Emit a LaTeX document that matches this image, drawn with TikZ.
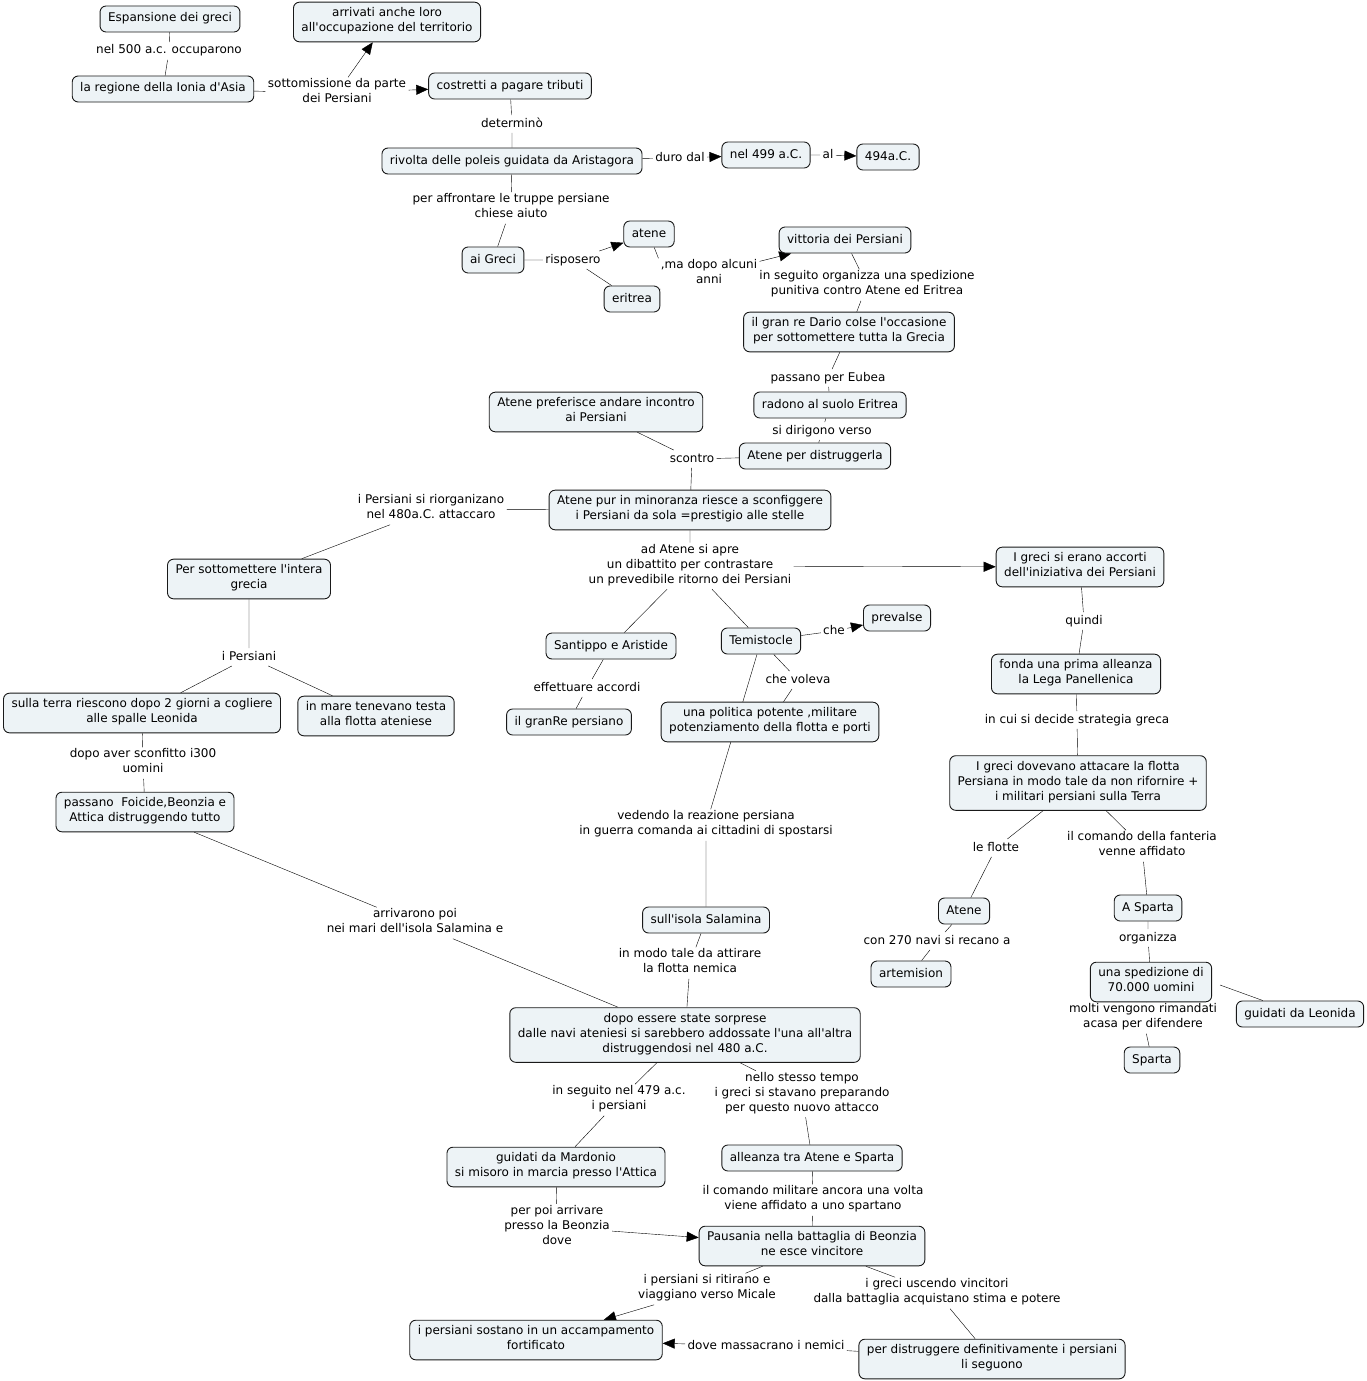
\documentclass[tikz,border=0pt]{standalone}
\usepackage{fontspec}
\setmainfont{DejaVu Sans}[Ligatures=TeXOff]
\usetikzlibrary{arrows.meta,backgrounds}
\definecolor{cmapfill}{RGB}{237,243,246}
\tikzset{every picture/.style={line width=0.9pt}}
\tikzset{
  concept/.style={draw=black!90, line width=0.9pt, fill=cmapfill, rounded corners=6pt, align=center,
    inner xsep=8pt, inner ysep=5.5pt, execute at begin node=\strut, execute at end node=\strut},
  phrase/.style={align=center, inner xsep=2pt, inner ysep=1pt,
    execute at begin node=\strut, execute at end node=\strut}
}

\begin{document}
\begin{tikzpicture}[x=1pt, y=-1pt, font=\fontsize{12}{15}\selectfont, line join=round, line cap=round, >={Triangle[length=12pt,width=10pt]}]
\useasboundingbox (0,0) rectangle (1366,1381);
\path
(170,19) node[concept] (Esp) {Espansione dei greci}
(387,22) node[concept] (Arr) {arrivati anche loro\\all'occupazione del territorio}
(163,89) node[concept] (Ion) {la regione della Ionia d'Asia}
(510,86) node[concept] (Tri) {costretti a pagare tributi}
(512,161) node[concept] (Riv) {rivolta delle poleis guidata da Aristagora}
(766,155) node[concept] (Dal) {nel 499 a.C.}
(888,157) node[concept] (Al) {494a.C.}
(493,260) node[concept] (Gre) {ai Greci}
(649,234) node[concept] (Ate) {atene}
(632,299) node[concept] (Eri) {eritrea}
(845,240) node[concept] (Vit) {vittoria dei Persiani}
(849,332) node[concept] (Dar) {il gran re Dario colse l'occasione\\per sottomettere tutta la Grecia}
(830,405) node[concept] (Rad) {radono al suolo Eritrea}
(815,456) node[concept] (Dis) {Atene per distruggerla}
(596,412) node[concept] (Pre) {Atene preferisce andare incontro\\ai Persiani}
(690,510) node[concept] (Min) {Atene pur in minoranza riesce a sconfiggere\\i Persiani da sola =prestigio alle stelle}
(249,579) node[concept] (Sot) {Per sottomettere l'intera\\grecia}
(1080,567) node[concept] (Acc) {I greci si erano accorti\\dell'iniziativa dei Persiani}
(611,646) node[concept] (San) {Santippo e Aristide}
(761,641) node[concept] (Tem) {Temistocle}
(897,618) node[concept] (Pva) {prevalse}
(142,713) node[concept] (Ter) {sulla terra riescono dopo 2 giorni a cogliere\\alle spalle Leonida}
(376,716) node[concept] (Mar) {in mare tenevano testa\\alla flotta ateniese}
(569,722) node[concept] (Rep) {il granRe persiano}
(770,722) node[concept] (Pol) {una politica potente ,militare\\potenziamento della flotta e porti}
(1076,674) node[concept] (Lega) {fonda una prima alleanza\\la Lega Panellenica}
(1078,783) node[concept] (Att) {I greci dovevano attacare la flotta\\Persiana in modo tale da non rifornire +\\i militari persiani sulla Terra}
(145,812) node[concept] (Foi) {passano\ \ Foicide,Beonzia e\\Attica distruggendo tutto}
(706,920) node[concept] (Sal) {sull'isola Salamina}
(964,911) node[concept] (Ath) {Atene}
(1148,908) node[concept] (ASp) {A Sparta}
(911,974) node[concept] (Art) {artemision}
(1151,982) node[concept] (Spe) {una spedizione di\\70.000 uomini}
(1300,1014) node[concept] (Leo) {guidati da Leonida}
(1152,1060) node[concept] (Spa) {Sparta}
(685,1035) node[concept] (Sor) {dopo essere state sorprese\\dalle navi ateniesi si sarebbero addossate l'una all'altra\\distruggendosi nel 480 a.C.}
(556,1167) node[concept] (Mdo) {guidati da Mardonio\\si misoro in marcia presso l'Attica}
(812,1158) node[concept] (All) {alleanza tra Atene e Sparta}
(812,1246) node[concept] (Pau) {Pausania nella battaglia di Beonzia\\ne esce vincitore}
(536,1340) node[concept] (Cam) {i persiani sostano in un accampamento\\fortificato}
(992,1359) node[concept] (Seg) {per distruggere definitivamente i persiani\\li seguono};
\foreach \n/\p/\t in {
  l1/{169,51}/{nel 500 a.c. occuparono},
  l2/{337,93}/{sottomissione da parte\\dei Persiani},
  l3/{512,124}/{determinò},
  l4/{680,158}/{duro dal},
  l5/{828,155}/{al},
  l6/{511,208}/{per affrontare le truppe persiane\\chiese aiuto},
  l7/{573,260}/{risposero},
  l8/{709,274}/{,ma dopo alcuni\\anni},
  l9/{867,285}/{in seguito organizza una spedizione\\punitiva contro Atene ed Eritrea},
  l10/{828,378}/{passano per Eubea},
  l11/{822,431}/{si dirigono verso},
  l12/{692,459}/{scontro},
  l13/{431,509}/{i Persiani si riorganizano\\nel 480a.C. attaccaro},
  l14/{690,566}/{ad Atene si apre\\un dibattito per contrastare\\un prevedibile ritorno dei Persiani},
  l15/{834,631}/{che},
  l16/{798,680}/{che voleva},
  l17/{706,825}/{vedendo la reazione persiana\\in guerra comanda ai cittadini di spostarsi},
  l18/{690,963}/{in modo tale da attirare\\la flotta nemica},
  l19/{415,923}/{arrivarono poi\\nei mari dell'isola Salamina e},
  l20/{249,657}/{i Persiani},
  l21/{143,763}/{dopo aver sconfitto i300\\uomini},
  l22/{587,688}/{effettuare accordi},
  l23/{1084,621}/{quindi},
  l24/{1077,720}/{in cui si decide strategia greca},
  l25/{996,848}/{le flotte},
  l26/{1142,846}/{il comando della fanteria\\venne affidato},
  l27/{937,941}/{con 270 navi si recano a},
  l28/{1148,938}/{organizza},
  l29/{1143,1018}/{molti vengono rimandati\\acasa per difendere},
  l30/{619,1100}/{in seguito nel 479 a.c.\\i persiani},
  l31/{802,1094}/{nello stesso tempo\\i greci si stavano preparando\\per questo nuovo attacco},
  l32/{813,1200}/{il comando militare ancora una volta\\viene affidato a uno spartano},
  l33/{557,1227}/{per poi arrivare\\presso la Beonzia\\dove},
  l34/{707,1289}/{i persiani si ritirano e\\viaggiano verso Micale},
  l35/{937,1293}/{i greci uscendo vincitori\\dalla battaglia acquistano stima e potere},
  l36/{766,1346}/{dove massacrano i nemici}}
  \node[phrase] (\n) at (\p) {\t};
\coordinate (Gap) at (1220,985);
\begin{scope}[on background layer]
\fill[white] (0,0) rectangle (1366,1381);
\draw (Esp)--(l1)--(Ion)--(l2) (Tri)--(l3)--(Riv)--(l4) (Dal)--(l5);
\draw[->] (l2)--(Arr);
\draw[->] (l2)--(Tri);
\draw[->] (l4)--(Dal);
\draw[->] (l5)--(Al);
\draw (Riv)--(l6)--(Gre)--(l7)--(Eri) (Ate)--(l8.north west) (Eri)--(l8.south west);
\draw[->] (l7)--(Ate);
\draw[->] (l8)--(Vit);
\draw (Vit)--(l9)--(Dar)--(l10)--(Rad)--(l11)--(Dis)--(l12) (Pre)--(l12)--(Min);
\draw (Min)--(l13)--(Sot)--(l20)--(Ter) (l20)--(Mar);
\draw (Ter)--(l21)--(Foi)--(l19)--(Sor);
\draw (Min)--(l14)--(San) (l14)--(Tem) (San)--(l22)--(Rep);
\draw[->] (l14)--(Acc);
\draw (Tem)--(l15) (Tem)--(l16)--(Pol) (Tem)--(l17)--(Sal)--(l18)--(Sor);
\draw[->] (l15)--(Pva);
\draw (Acc)--(l23)--(Lega)--(l24)--(Att)--(l25)--(Ath)--(l27)--(Art);
\draw (Att)--(l26)--(ASp)--(l28)--(Spe)--(l29)--(Spa) (Gap)--(Leo);
\draw (Sor)--(l30)--(Mdo)--(l33) (Sor)--(l31)--(All)--(l32)--(Pau);
\draw[->] (l33)--(Pau);
\draw (Pau)--(l34) (Pau)--(l35)--(Seg)--(l36);
\draw[->] (l34)--(Cam);
\draw[->] (l36)--(Cam);
\end{scope}
\end{tikzpicture}
\end{document}
